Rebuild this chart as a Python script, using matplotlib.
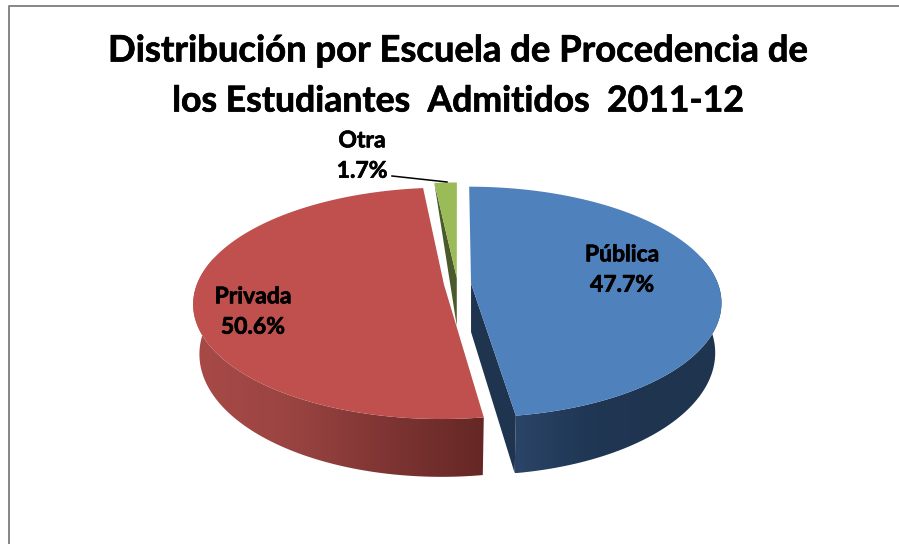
#!/usr/bin/env python3
"""Exploded 3D-look pie of admitted students by type of school of origin."""

import matplotlib

matplotlib.use("Agg")  # headless
import matplotlib.patheffects as pe
import matplotlib.pyplot as plt
import numpy as np
from matplotlib.colors import LinearSegmentedColormap
from matplotlib.patches import Polygon

# data
categories = ["Pública", "Privada", "Otra"]
shares = [47.7, 50.6, 1.7]
title_lines = ["Distribución por Escuela de Procedencia de",
               "los Estudiantes  Admitidos  2011-12"]

# look of each slice: top face, then side colours from its left to its right on the page
top_colors = ["#4F81BD", "#C0504D", "#9BBB59"]
side_ramps = [["#2B4568", "#203755", "#1F344F", "#1F344F"],
              ["#A84A47", "#9A4442", "#7E3533", "#652725"],
              ["#4A5A2A", "#4A5A2A"]]
cut_colors = ["#1F344F", "#632624", "#4A5A2A"]
label_pos = [(622, 270), (253, 312), (362, 156)]
title_sizes = [26.2, 25.6]

# projection of the unit disk onto the page, in pixels
CX, CY = 457.5, 284.0
RX, RY = 247.0, 112.5
PERSP = 0.16
DEPTH = 48.5
LOWER_SCALE = 0.975  # the bottom rim sits further from the viewer
EXPLODE = 0.055

plt.rcParams["font.family"] = ["Lato", "DejaVu Sans"]
FATTEN = [pe.withStroke(linewidth=0.5, foreground="black")]


def project(x, y):
    s = 1.0 / (1.0 + PERSP * y)
    return CX + RX * x * s, CY - RY * y * s, s


def draw_slice(ax, start, end, i):
    """Draw one slice, angles in degrees clockwise from twelve o'clock."""
    mid = np.radians((start + end) / 2)
    ox, oy = EXPLODE * np.sin(mid), EXPLODE * np.cos(mid)
    t = np.radians(np.linspace(start, end, 181))
    px, py, ps = project(ox + np.sin(t), oy + np.cos(t))
    ax_, ay_, as_ = project(ox, oy)

    # rim side: a horizontal gradient clipped to the swept outline
    front = np.cos(t) < 0.25
    low_x = ax_ + (px - ax_) * LOWER_SCALE
    low_y = py + DEPTH * ps
    if front.any():
        outline = np.column_stack([np.r_[px[front], low_x[front][::-1]],
                                   np.r_[py[front], low_y[front][::-1]]])
        clip = Polygon(outline, closed=True, fc="none", ec="none", transform=ax.transData)
        ax.add_patch(clip)
        cmap = LinearSegmentedColormap.from_list(f"side{i}", side_ramps[i])
        extent = (outline[:, 0].min(), outline[:, 0].max(),
                  outline[:, 1].max(), outline[:, 1].min())
        img = ax.imshow(np.linspace(0, 1, 256)[None, :], cmap=cmap, extent=extent,
                        aspect="auto", zorder=2, interpolation="bilinear")
        img.set_clip_path(clip)

    if i == 0:
        # cut face on the near edge of the blue slice
        face = [(ax_, ay_), (px[-1], py[-1]), (low_x[-1], low_y[-1]),
                (ax_, ay_ + DEPTH * as_)]
        ax.add_patch(Polygon(face, closed=True, fc=cut_colors[i], ec="none", zorder=3))
    if i == 2:
        # sliver of cut face next to the green top
        face = [(px[0], py[0]), (ax_, ay_), (ax_, ay_ + DEPTH * as_)]
        ax.add_patch(Polygon(face, closed=True, fc=cut_colors[i], ec="none", zorder=3))

    top = np.column_stack([np.r_[ax_, px], np.r_[ay_, py]])
    ax.add_patch(Polygon(top, closed=True, fc=top_colors[i], ec="none", zorder=4))


fig = plt.figure(figsize=(8.99, 5.44), dpi=100)
ax = fig.add_axes([0, 0, 1, 1])
ax.axis("off")

# chart frame, cut by the right and bottom of the image
ax.plot([8.5, 8.5, 899], [544, 6, 6], color="#868686", lw=1.4, zorder=1)

edges = np.cumsum([0] + shares) / sum(shares) * 360
# the two big slices first, then the small one behind them
for i in (2, 1, 0):
    draw_slice(ax, edges[i], edges[i + 1], i)

ax.set_xlim(0, 899)
ax.set_ylim(544, 0)

for line, y, size in zip(title_lines, (51, 101), title_sizes):
    ax.text(458, y, line, ha="center", va="center", fontsize=size, fontweight="bold",
            color="black", zorder=6, path_effects=FATTEN)

for name, share, (x, y) in zip(categories, shares, label_pos):
    ax.text(x, y, f"{name}\n{share:.1f}%", ha="center", va="center", fontsize=16.5,
            fontweight="bold", color="black", linespacing=1.55, zorder=6,
            path_effects=FATTEN)

# leader line of the small slice
ax.plot([392, 447], [176, 182], color="black", lw=1.1, zorder=6)

fig.savefig("out.png", dpi=100, facecolor="white")
